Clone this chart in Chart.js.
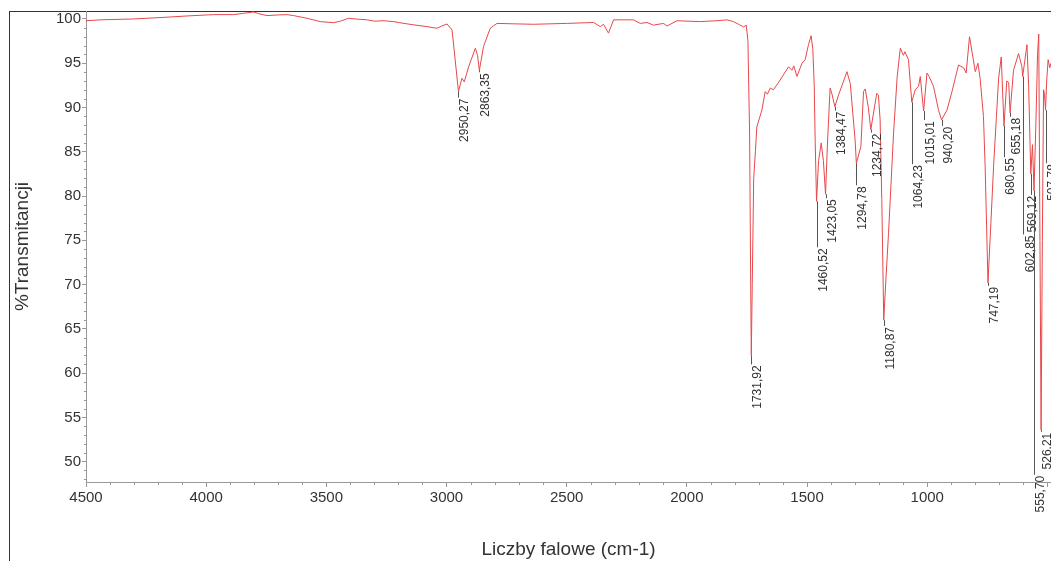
<!DOCTYPE html>
<html>
<head>
<meta charset="utf-8">
<script src="https://cdn.jsdelivr.net/npm/chart.js@4/dist/chart.umd.min.js"></script>
<style>
  html, body { margin: 0; padding: 0; background: #fff; overflow: hidden; }
  #frame { position: absolute; left: 9px; top: 11px; width: 1100px; height: 600px;
           border-left: 1px solid #333; border-top: 1px solid #333; }
  #spectrum { position: absolute; left: 0; top: 0; }
</style>
</head>
<body>
<div id="frame"></div>
<canvas id="spectrum" width="1051" height="561"></canvas>
<script>
// spectrum: wavenumber (cm-1) and %T
var wavenumbers = [
  4500, 4441, 4303, 4163, 4080, 3970, 3886, 3844, 3803, 3782, 3747, 3705, 3664, 3636, 3581, 3525,
  3470, 3442, 3408, 3380, 3330, 3300, 3260, 3220, 3196, 3140, 3081, 3040, 3020, 2998, 2977, 2964,
  2950.27, 2936, 2926, 2908, 2880, 2871, 2863.35, 2846, 2818, 2790, 2720, 2638, 2500, 2388, 2360, 2347,
  2326, 2305, 2222, 2194, 2166, 2139, 2097, 2083, 2041, 1946, 1875, 1833, 1806, 1785, 1764, 1753,
  1746, 1739, 1735, 1731.92, 1728, 1722, 1715, 1709, 1688, 1674, 1665, 1653, 1640, 1612, 1577, 1563,
  1555, 1542, 1521, 1508, 1494, 1483, 1476, 1470, 1466, 1460.52, 1452, 1441, 1432, 1423.05, 1415, 1404,
  1396, 1384.47, 1369, 1334, 1320, 1300, 1294.78, 1276, 1265, 1258, 1245, 1234.72, 1210, 1203, 1196, 1189,
  1180.87, 1171, 1161, 1140, 1125, 1112, 1099, 1093, 1078, 1064.23, 1050, 1036, 1029, 1015.01, 1001, 992,
  974, 953, 940.20, 918, 897, 870, 849, 838, 824, 810, 800, 789, 780, 766, 759, 747.19,
  735, 724, 712, 703, 692, 680.55, 669, 661, 655.18, 641, 620, 606, 602.85, 585, 578, 569.12,
  562, 555.70, 548, 541, 536, 531, 526.21, 521, 516, 512, 507.78, 503, 497, 490, 485
];
var transmittance = [
  99.8, 99.9, 100.0, 100.2, 100.34, 100.49, 100.49, 100.64, 100.79, 100.6, 100.38, 100.45, 100.49, 100.38, 100.08, 99.7,
  99.58, 99.75, 100.08, 100.0, 99.9, 99.75, 99.8, 99.7, 99.58, 99.35, 99.13, 98.95, 99.2, 99.44, 98.76, 95.37,
  91.8, 93.3, 92.9, 94.6, 96.7, 95.9, 94.2, 96.9, 98.95, 99.5, 99.45, 99.4, 99.5, 99.6, 99.13, 99.4,
  98.4, 99.9, 99.9, 99.5, 99.6, 99.3, 99.5, 99.2, 99.8, 99.7, 99.8, 99.9, 99.7, 99.4, 99.1, 99.3,
  97.6, 87.1, 72, 62.0, 70, 82, 85, 87.8, 89.7, 91.8, 91.5, 92.2, 92.0, 93.1, 94.6, 94.2,
  94.7, 93.5, 95.0, 95.4, 97.1, 98.1, 96.6, 92.4, 86, 79.4, 84, 86.0, 84, 80.2, 86, 92.2,
  91.5, 90.1, 91.4, 94.05, 92.7, 86.3, 83.7, 85.6, 91.8, 92.1, 90, 87.5, 91.6, 91.4, 88.6, 79.6,
  66.0, 71, 75.8, 87.1, 93.5, 96.7, 95.9, 96.3, 95.4, 90.6, 92.0, 92.4, 93.5, 89.6, 93.9, 93.5,
  92.4, 89.7, 88.6, 89.7, 91.8, 94.8, 94.5, 93.9, 98.0, 95.7, 94.05, 95.0, 93.3, 89.0, 83.3, 70.2,
  77, 83.3, 89, 93.3, 95.7, 87.9, 93.0, 92.8, 89.4, 94.2, 96.1, 94.6, 93.5, 97.1, 92.4, 82.5,
  85.8, 80.6, 88, 96, 98.3, 75, 53.6, 75, 92, 91.5, 89.7, 93, 95.4, 94.5, 95.0
];

// marked peaks
var peakWavenumbers = [2950.27, 2863.35, 1731.92, 1460.52, 1423.05, 1384.47, 1294.78, 1234.72, 1180.87,
  1064.23, 1015.01, 940.20, 747.19, 680.55, 655.18, 602.85, 569.12, 555.70, 526.21, 507.78];
var peakTransmittance = [91.8, 94.2, 62.0, 79.4, 80.2, 90.1, 83.7, 87.5, 66.0,
  90.6, 89.6, 88.6, 70.2, 87.9, 89.4, 93.5, 82.5, 80.6, 53.6, 89.7];

var xTicks = [4500, 4000, 3500, 3000, 2500, 2000, 1500, 1000, 500];
var yTicks = [50, 55, 60, 65, 70, 75, 80, 85, 90, 95, 100];

// length of each label's leader line (px) and sideways shift of its text
var labelDrop = [6, 2, 9, 46, 4, 4, 22, 3, 6, 62, 9, 6, 3, 31, 4, 158, 21, 284, 2, 53];
var labelShift = [0, 0, 0, 0, 0, 0, 0, 0, 0, 0, 0, 0, 0, 0, 0, 1, -5, 0, 0, 0];

var FONT = '"Liberation Sans", Arial, sans-serif';

var points = [];
for (var i = 0; i < wavenumbers.length; i++) {
  points.push({ x: wavenumbers[i], y: transmittance[i] });
}

function formatPeak(v) {
  return v.toFixed(2).replace('.', ',');
}

// small ticks between the labelled ones
var minorTicks = {
  id: 'minorTicks',
  afterDraw: function(chart) {
    var ctx = chart.ctx;
    var xs = chart.scales.x, ys = chart.scales.y;
    var area = chart.chartArea;
    ctx.save();
    ctx.strokeStyle = '#999';
    ctx.lineWidth = 1;
    ctx.beginPath();
    for (var v = 48; v <= 100; v++) {
      if (v % 5 == 0) continue;
      var py = Math.round(ys.getPixelForValue(v)) + 0.5;
      ctx.moveTo(area.left - 2, py);
      ctx.lineTo(area.left, py);
    }
    for (var w = 600; w < 4500; w += 100) {
      if (w % 500 == 0) continue;
      var px = Math.round(xs.getPixelForValue(w)) + 0.5;
      ctx.moveTo(px, area.bottom);
      ctx.lineTo(px, area.bottom + 3);
    }
    ctx.stroke();
    ctx.restore();
  }
};

// rotated peak labels with leader lines
var peakLabels = {
  id: 'peakLabels',
  afterDatasetsDraw: function(chart) {
    var ctx = chart.ctx;
    var xs = chart.scales.x, ys = chart.scales.y;
    ctx.save();
    ctx.font = '12px ' + FONT;
    ctx.fillStyle = '#333';
    ctx.strokeStyle = '#555';
    ctx.lineWidth = 1;
    for (var i = 0; i < peakWavenumbers.length; i++) {
      var px = Math.round(xs.getPixelForValue(peakWavenumbers[i])) + 0.5;
      var py = ys.getPixelForValue(peakTransmittance[i]);
      var end = py + labelDrop[i];
      ctx.beginPath();
      ctx.moveTo(px, py);
      ctx.lineTo(px, end);
      ctx.stroke();
      ctx.save();
      ctx.translate(px + 6 + labelShift[i], end + 1);
      ctx.rotate(-Math.PI / 2);
      ctx.textAlign = 'right';
      ctx.textBaseline = 'middle';
      ctx.fillText(formatPeak(peakWavenumbers[i]), 0, 0);
      ctx.restore();
    }
    ctx.restore();
  }
};

var spectrumChart = new Chart(document.getElementById('spectrum'), {
  type: 'line',
  data: {
    datasets: [{
      data: points,
      borderColor: '#e8474a',
      borderWidth: 1,
      pointRadius: 0,
      tension: 0,
      fill: false
    }]
  },
  options: {
    responsive: false,
    animation: false,
    events: [],
    layout: { padding: { top: 11, left: 0, right: 0, bottom: 0 } },
    plugins: { legend: { display: false }, tooltip: { enabled: false } },
    scales: {
      x: {
        type: 'linear',
        reverse: true,
        min: 485,
        max: 4500,
        afterBuildTicks: function(s) { s.ticks = xTicks.map(function(v) { return { value: v }; }); },
        afterFit: function(s) { s.height = 79; s.paddingRight = 0; },
        grid: { drawOnChartArea: false, drawTicks: true, tickLength: 5, color: '#999' },
        border: { display: true, color: '#999' },
        ticks: {
          color: '#333', font: { size: 15, family: FONT }, padding: 2,
          maxRotation: 0, autoSkip: false,
          callback: function(v) { return v < 1000 ? '' : String(v); }
        },
        title: { display: true, text: 'Liczby falowe (cm-1)', color: '#333',
                 font: { size: 19, family: FONT }, padding: { top: 0, bottom: 0 } }
      },
      y: {
        min: 47.7,
        max: 100.9,
        afterBuildTicks: function(s) { s.ticks = yTicks.map(function(v) { return { value: v }; }); },
        afterFit: function(s) { s.width = 86; },
        grid: { drawOnChartArea: false, drawTicks: true, tickLength: 4, color: '#999' },
        border: { display: true, color: '#999' },
        ticks: { color: '#333', font: { size: 15, family: FONT }, padding: 1,
                 callback: function(v) { return String(v); } },
        title: { display: true, text: '%Transmitancji', color: '#333',
                 font: { size: 19, family: FONT }, padding: { top: 11, bottom: 0 } }
      }
    }
  },
  plugins: [minorTicks, peakLabels]
});
</script>
</body>
</html>
